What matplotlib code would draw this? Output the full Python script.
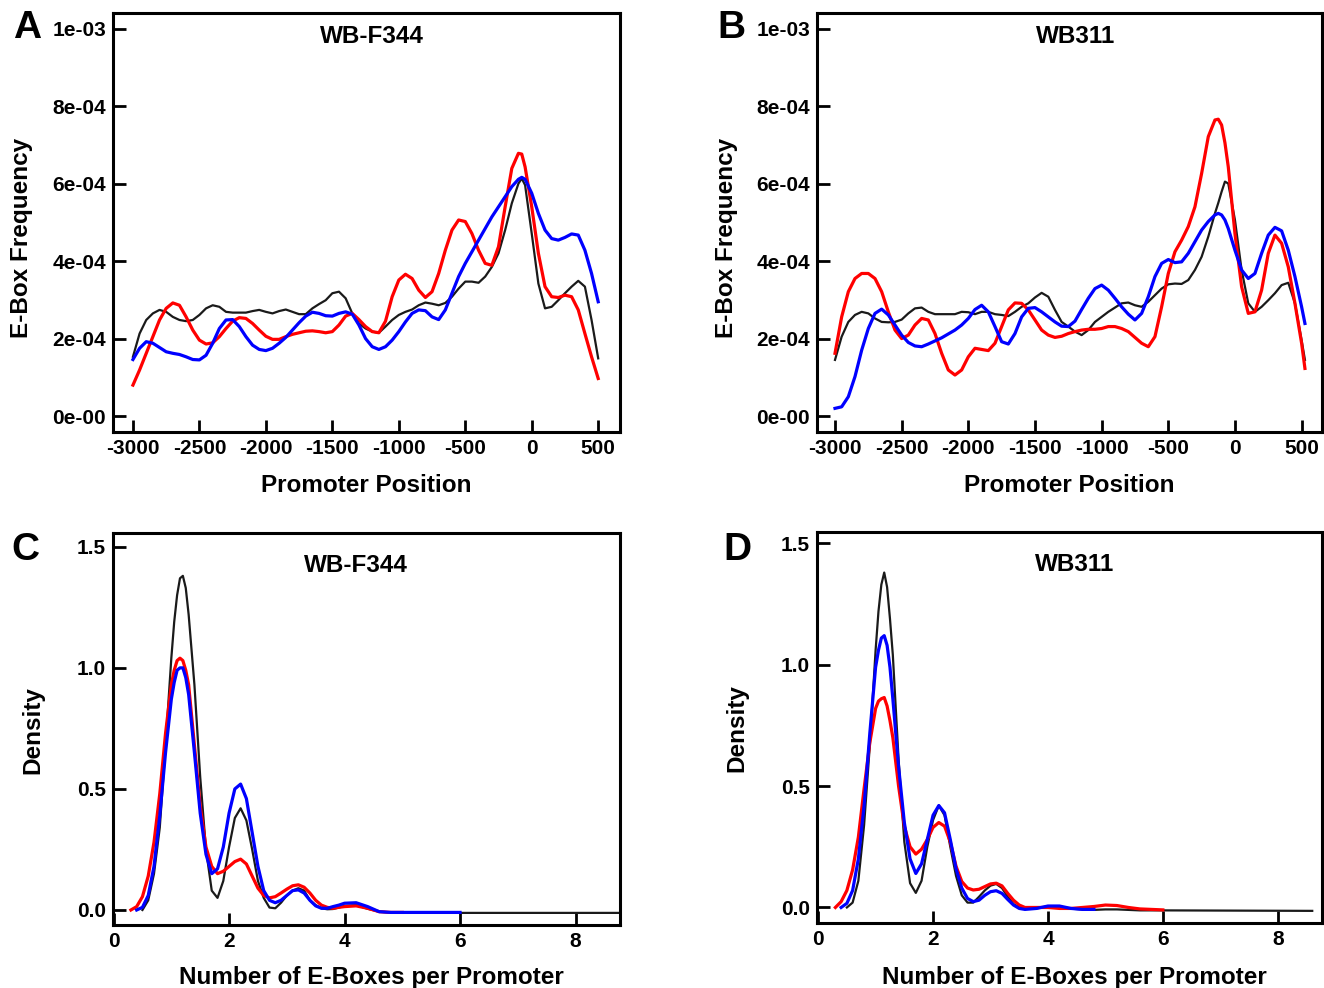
import matplotlib
matplotlib.use("Agg")
import matplotlib.pyplot as plt
import numpy as np

plt.rcParams['font.family'] = ['Liberation Sans', 'DejaVu Sans']
plt.rcParams['font.weight'] = 'bold'
plt.rcParams['axes.unicode_minus'] = False

nan = np.nan

# ---- Panel A (WB-F344), E-box frequency, values in 1e-4 ----
xA = list(range(-3000, -99, 50)) + [-75] + list(range(-50, 501, 50))
blackA = [1.53, 2.13, 2.48, 2.65, 2.74, 2.69, 2.56, 2.48, 2.45, 2.48, 2.61, 2.78, 2.86, 2.82, 2.69, 2.67, 2.67, 2.67, 2.71,
          2.74, 2.69, 2.65, 2.71, 2.75, 2.69, 2.63, 2.63, 2.78, 2.89, 2.99, 3.17, 3.21, 3.04, 2.65, 2.39, 2.26, 2.18, 2.15,
          2.31, 2.48, 2.61, 2.69, 2.75, 2.86, 2.93, 2.90, 2.86, 2.92, 3.08, 3.29, 3.47, 3.47, 3.44, 3.60, 3.85, 4.20, 4.80,
          5.49, 6.00,
          6.13, 5.96, 4.71, 3.42, 2.78, 2.82, 2.99, 3.17, 3.34, 3.49, 3.34, 2.48, 1.49]
redA = [0.80, 1.19, 1.62, 2.05, 2.48, 2.78, 2.92, 2.86, 2.56, 2.22, 1.96, 1.86, 1.89, 2.05, 2.26, 2.45, 2.54, 2.52, 2.39,
        2.22, 2.06, 1.98, 1.98, 2.05, 2.11, 2.15, 2.19, 2.20, 2.18, 2.15, 2.18, 2.35, 2.58, 2.65, 2.49, 2.31, 2.18, 2.15,
        2.45, 3.08, 3.51, 3.66, 3.55, 3.25, 3.06, 3.21, 3.68, 4.28, 4.80, 5.06, 5.02, 4.71, 4.28, 3.94, 3.89, 4.37, 5.40,
        6.39, 6.78,
        6.76, 6.43, 5.40, 4.20, 3.34, 3.08, 3.06, 3.12, 3.08, 2.74, 2.13, 1.53, 0.97]
blueA = [1.46, 1.75, 1.92, 1.88, 1.77, 1.66, 1.62, 1.59, 1.53, 1.46, 1.45, 1.57, 1.88, 2.26, 2.48, 2.49, 2.31, 2.05, 1.83,
         1.72, 1.69, 1.75, 1.88, 2.03, 2.22, 2.41, 2.58, 2.68, 2.65, 2.59, 2.58, 2.65, 2.69, 2.63, 2.35, 2.00, 1.79, 1.72,
         1.79, 1.96, 2.18, 2.43, 2.65, 2.74, 2.72, 2.56, 2.49, 2.74, 3.17, 3.60, 3.94, 4.24, 4.54, 4.84, 5.14, 5.40, 5.66,
         5.92, 6.11,
         6.16, 6.11, 5.75, 5.23, 4.80, 4.58, 4.54, 4.61, 4.70, 4.67, 4.28, 3.68, 2.95]

# ---- Panel B (WB311) ----
xB = list(range(-3000, -199, 50)) + [-150, -125, -100, -75, -50] + list(range(0, 501, 50)) + [525]
blackB = [1.45, 2.05, 2.43, 2.61, 2.69, 2.65, 2.52, 2.43, 2.42, 2.43, 2.49, 2.65, 2.78, 2.80, 2.69, 2.63, 2.63, 2.63, 2.63,
          2.69, 2.68, 2.63, 2.69, 2.69, 2.63, 2.61, 2.58, 2.69, 2.82, 2.91, 3.06, 3.18, 3.08, 2.74, 2.43, 2.31, 2.18,
          2.09, 2.22, 2.43, 2.56, 2.69, 2.80, 2.91, 2.93, 2.86, 2.82, 2.95, 3.12, 3.29, 3.40, 3.42, 3.41, 3.51, 3.77, 4.11,
          4.63,
          5.23, 5.50, 5.79, 6.05, 6.00, 5.06, 3.77, 2.91, 2.69, 2.82, 2.99, 3.17, 3.38, 3.44, 2.91, 1.96, 1.45]
redB = [1.62, 2.56, 3.21, 3.55, 3.68, 3.68, 3.55, 3.21, 2.69, 2.22, 2.00, 2.09, 2.35, 2.52, 2.48, 2.13, 1.62, 1.19, 1.06,
        1.19, 1.53, 1.75, 1.72, 1.69, 1.88, 2.31, 2.74, 2.92, 2.91, 2.74, 2.48, 2.22, 2.09, 2.03, 2.06, 2.13, 2.18,
        2.22, 2.24, 2.24, 2.26, 2.31, 2.31, 2.26, 2.18, 2.03, 1.88, 1.79, 2.05, 2.82, 3.68, 4.24, 4.54, 4.89, 5.40, 6.26,
        7.21,
        7.64, 7.66, 7.51, 7.05, 6.43, 4.71, 3.34, 2.65, 2.69, 3.25, 4.20, 4.67, 4.46, 3.85, 2.91, 1.88, 1.23]
blueB = [0.20, 0.24, 0.50, 1.02, 1.70, 2.26, 2.65, 2.76, 2.61, 2.35, 2.09, 1.90, 1.81, 1.79, 1.86, 1.94, 2.02, 2.12, 2.22,
         2.35, 2.52, 2.75, 2.86, 2.69, 2.31, 1.92, 1.86, 2.13, 2.56, 2.78, 2.80, 2.69, 2.56, 2.43, 2.32, 2.31, 2.45,
         2.75, 3.04, 3.29, 3.38, 3.25, 3.04, 2.82, 2.63, 2.48, 2.65, 3.08, 3.60, 3.94, 4.04, 3.96, 3.98, 4.20, 4.50, 4.80,
         5.02,
         5.19, 5.23, 5.19, 5.06, 4.84, 4.28, 3.77, 3.55, 3.68, 4.20, 4.67, 4.87, 4.78, 4.28, 3.60, 2.82, 2.39]

# ---- Panel C (WB-F344), density of E-box counts ----
xC = [0.3, 0.4, 0.5, 0.6, 0.7, 0.8, 0.9, 1.0, 1.05, 1.1, 1.15, 1.2, 1.25, 1.3, 1.4, 1.5, 1.6, 1.7, 1.8, 1.9, 2.0, 2.1,
      2.2, 2.3, 2.4, 2.5, 2.6, 2.7, 2.8, 2.9, 3.0, 3.1, 3.2, 3.3, 3.4, 3.5, 3.6, 3.7, 3.8, 3.9, 4.0, 4.2, 4.4, 4.6, 4.8,
      5.0, 5.5, 6.0, 8.8]
blackC = [nan, nan, 0.00, 0.04, 0.15, 0.34, 0.68, 1.04, 1.19, 1.30, 1.37, 1.38, 1.33, 1.22, 0.93, 0.55, 0.25, 0.08, 0.05,
          0.12, 0.26, 0.38, 0.42, 0.37, 0.25, 0.12, 0.05, 0.01, 0.007, 0.03, 0.06, 0.08, 0.09, 0.08, 0.04, 0.02, 0.007,
          0.003, 0.004, 0.01, 0.017, 0.02, 0.005, -0.007, -0.01, -0.012, -0.012, -0.012, -0.012]
redC = [0.0, 0.014, 0.055, 0.14, 0.28, 0.48, 0.73, 0.93, 0.99, 1.03, 1.04, 1.03, 0.99, 0.93, 0.68, 0.43, 0.26, 0.18, 0.15,
        0.16, 0.18, 0.20, 0.21, 0.19, 0.14, 0.09, 0.06, 0.05, 0.055, 0.07, 0.086, 0.10, 0.104, 0.094, 0.07, 0.04, 0.02,
        0.011, 0.007, 0.011, 0.014, 0.017, 0.007, -0.007, -0.01, -0.01, nan, nan, nan]
blueC = [nan, 0.0, 0.011, 0.06, 0.18, 0.39, 0.65, 0.87, 0.94, 0.99, 1.00, 1.00, 0.96, 0.89, 0.65, 0.40, 0.23, 0.15, 0.17,
         0.26, 0.40, 0.50, 0.52, 0.46, 0.32, 0.18, 0.08, 0.04, 0.03, 0.04, 0.06, 0.08, 0.083, 0.07, 0.04, 0.017, 0.007,
         0.007, 0.014, 0.02, 0.028, 0.03, 0.014, -0.007, -0.01, -0.01, -0.01, -0.01, nan]

# ---- Panel D (WB311) ----
xD = [0.3, 0.4, 0.5, 0.6, 0.7, 0.8, 0.9, 1.0, 1.05, 1.1, 1.15, 1.2, 1.25, 1.3, 1.4, 1.5, 1.6, 1.7, 1.8, 1.9, 2.0, 2.1,
      2.2, 2.3, 2.4, 2.5, 2.6, 2.7, 2.8, 2.9, 3.0, 3.1, 3.2, 3.3, 3.4, 3.5, 3.6, 3.8, 4.0, 4.2, 4.4, 4.6, 4.8, 5.0, 5.2,
      5.4, 5.6, 5.8, 6.0, 8.6]
blackD = [nan, nan, 0.0, 0.02, 0.11, 0.34, 0.67, 1.06, 1.22, 1.33, 1.38, 1.32, 1.19, 1.04, 0.61, 0.27, 0.10, 0.06, 0.11,
          0.25, 0.36, 0.42, 0.38, 0.25, 0.13, 0.05, 0.02, 0.02, 0.044, 0.07, 0.09, 0.097, 0.08, 0.044, 0.014, 0.0, -0.004,
          -0.004, 0.005, 0.004, -0.005, -0.008, -0.01, -0.008, -0.008, -0.01, -0.012, -0.012, -0.012, -0.014]
redD = [0.0, 0.024, 0.07, 0.155, 0.29, 0.49, 0.68, 0.82, 0.85, 0.86, 0.865, 0.83, 0.77, 0.70, 0.50, 0.335, 0.25, 0.22,
        0.24, 0.28, 0.33, 0.35, 0.335, 0.27, 0.17, 0.107, 0.08, 0.072, 0.075, 0.086, 0.097, 0.10, 0.089, 0.058, 0.03,
        0.01, 0.0, 0.0, 0.0, -0.004, -0.004, 0.0, 0.004, 0.01, 0.008, 0.0, -0.006, -0.008, -0.01, nan]
blueD = [nan, 0.0, 0.017, 0.07, 0.20, 0.42, 0.72, 0.99, 1.06, 1.11, 1.12, 1.08, 0.99, 0.86, 0.58, 0.35, 0.20, 0.14, 0.18,
         0.28, 0.38, 0.42, 0.39, 0.28, 0.16, 0.08, 0.037, 0.024, 0.03, 0.05, 0.065, 0.069, 0.058, 0.033, 0.01, -0.004,
         -0.008, -0.004, 0.006, 0.006, -0.004, -0.008, -0.008, nan, nan, nan, nan, nan, nan, nan]

pos_ticks = [-3000, -2500, -2000, -1500, -1000, -500, 0, 500]
freq_ticks = [0, 2e-4, 4e-4, 6e-4, 8e-4, 1e-3]
freq_labels = ['0e-00', '2e-04', '4e-04', '6e-04', '8e-04', '1e-03']
count_ticks = [0, 2, 4, 6, 8]
dens_ticks = [0.0, 0.5, 1.0, 1.5]
dens_labels = ['0.0', '0.5', '1.0', '1.5']

W, H = 1324, 988
fig = plt.figure(figsize=(W / 100, H / 100), dpi=100)


def box(l, t, r, b):
    return [l / W, 1 - b / H, (r - l) / W, (b - t) / H]


def style(ax):
    for s in ax.spines.values():
        s.set_linewidth(2.2)
    ax.tick_params(direction='in', length=9, width=2, labelsize=15, pad=5)
    for lab in ax.get_xticklabels() + ax.get_yticklabels():
        lab.set_fontweight('bold')


def draw(ax, x, k, r, b):
    ax.plot(x, k, color='#1a1a1a', lw=1.6)
    ax.plot(x, r, color='#ff0000', lw=2.3)
    ax.plot(x, b, color='#0000ff', lw=2.3)


# A
axA = fig.add_axes(box(113, 13, 620, 432))
draw(axA, xA, np.array(blackA) * 1e-4, np.array(redA) * 1e-4, np.array(blueA) * 1e-4)
axA.set_xlim(-3150, 664)
axA.set_ylim(-0.41e-4, 1.04e-3)
axA.set_xticks(pos_ticks)
axA.set_yticks(freq_ticks)
axA.set_yticklabels(freq_labels)
style(axA)
axA.text(0.511, 0.943, 'WB-F344', transform=axA.transAxes, ha='center', va='center', fontsize=17.5, fontweight='bold')

# B
axB = fig.add_axes(box(817, 13, 1322, 432))
draw(axB, xB, np.array(blackB) * 1e-4, np.array(redB) * 1e-4, np.array(blueB) * 1e-4)
axB.set_xlim(-3135, 653)
axB.set_ylim(-0.41e-4, 1.04e-3)
axB.set_xticks(pos_ticks)
axB.set_yticks(freq_ticks)
axB.set_yticklabels(freq_labels)
style(axB)
axB.text(0.513, 0.943, 'WB311', transform=axB.transAxes, ha='center', va='center', fontsize=17.5, fontweight='bold')

# C
axC = fig.add_axes(box(113, 533, 620, 925))
draw(axC, xC, blackC, redC, blueC)
axC.set_xlim(-0.01, 8.77)
axC.set_ylim(-0.062, 1.557)
axC.set_xticks(count_ticks)
axC.set_yticks(dens_ticks)
axC.set_yticklabels(dens_labels)
style(axC)
axC.text(0.479, 0.918, 'WB-F344', transform=axC.transAxes, ha='center', va='center', fontsize=17.5, fontweight='bold')

# D
axD = fig.add_axes(box(817, 532, 1322, 923))
draw(axD, xD, blackD, redD, blueD)
axD.set_xlim(-0.02, 8.77)
axD.set_ylim(-0.064, 1.547)
axD.set_xticks(count_ticks)
axD.set_yticks(dens_ticks)
axD.set_yticklabels(dens_labels)
style(axD)
axD.text(0.511, 0.916, 'WB311', transform=axD.transAxes, ha='center', va='center', fontsize=17.5, fontweight='bold')

# axis titles and panel letters
def ftext(x, y, s, **kw):
    fig.text(x / W, 1 - y / H, s, fontweight='bold', **kw)

ftext(22, 238, 'E-Box Frequency', rotation=90, ha='center', va='center', fontsize=17.5)
ftext(727, 238, 'E-Box Frequency', rotation=90, ha='center', va='center', fontsize=17.5)
ftext(366, 485, 'Promoter Position', ha='center', va='center', fontsize=17.5)
ftext(1069, 485, 'Promoter Position', ha='center', va='center', fontsize=17.5)
ftext(33, 730, 'Density', rotation=90, ha='center', va='center', fontsize=17.5)
ftext(737, 728, 'Density', rotation=90, ha='center', va='center', fontsize=17.5)
ftext(371, 966, 'Number of E-Boxes per Promoter', ha='center', va='top', fontsize=17.5)
ftext(1074, 966, 'Number of E-Boxes per Promoter', ha='center', va='top', fontsize=17.5)

ftext(27, 28, 'A', ha='center', va='center', fontsize=28)
ftext(731, 28, 'B', ha='center', va='center', fontsize=28)
ftext(25, 550, 'C', ha='center', va='center', fontsize=28)
ftext(737, 550, 'D', ha='center', va='center', fontsize=28)

fig.savefig('out.png', dpi=100)
